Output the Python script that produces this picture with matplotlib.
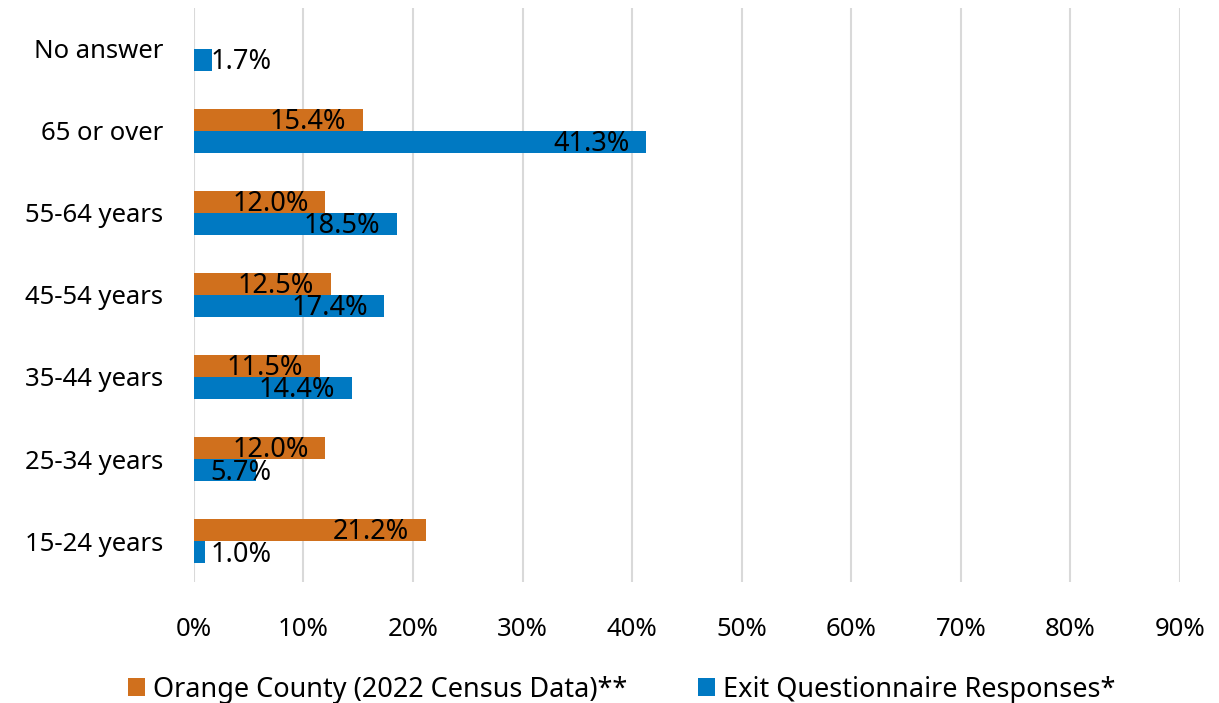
import matplotlib
matplotlib.use('Agg')
import matplotlib.pyplot as plt
import numpy as np

categories = ['15-24 years', '25-34 years', '35-44 years', '45-54 years',
              '55-64 years', '65 or over', 'No answer']
orange_county = [21.2, 12.0, 11.5, 12.5, 12.0, 15.4, np.nan]
exit_responses = [1.0, 5.7, 14.4, 17.4, 18.5, 41.3, 1.7]
xticks = [0, 10, 20, 30, 40, 50, 60, 70, 80, 90]

ORANGE = '#D0701D'
BLUE = '#0079C2'

plt.rcParams['font.family'] = ['Noto Sans', 'DejaVu Sans']

fig = plt.figure(figsize=(12.19, 7.03), dpi=100)
ax = fig.add_axes([0.159, 0.172, 0.809, 0.817])

y = np.arange(len(categories))
h = 0.27
ax.barh(y + h / 2, orange_county, height=h, color=ORANGE,
        label='Orange County (2022 Census Data)**', zorder=3)
ax.barh(y - h / 2, exit_responses, height=h, color=BLUE,
        label='Exit Questionnaire Responses*', zorder=3)

# value labels, centred a little inside the bar end, clamped for short bars
for vals, off in ((orange_county, h / 2), (exit_responses, -h / 2)):
    for yi, v in zip(y, vals):
        if np.isnan(v):
            continue
        ax.text(max(v - 5.0, 4.3), yi + off - 0.03, f'{v:.1f}%',
                ha='center', va='center', fontsize=19.5, color='black', zorder=4)

ax.set_xlim(0, 90)
ax.set_ylim(-0.5, 6.5)
ax.set_xticks(xticks)
ax.set_xticklabels([f'{t}%' for t in xticks])
ax.set_yticks(y)
ax.set_yticklabels(categories)
ax.tick_params(axis='both', length=0, labelsize=18.5)
ax.tick_params(axis='y', pad=22)
ax.tick_params(axis='x', pad=25)

ax.grid(axis='x', color='#D9D9D9', linewidth=1.5, zorder=0)
for s in ax.spines.values():
    s.set_visible(False)

fig.legend(loc='lower center', bbox_to_anchor=(0.51, -0.024), ncol=2,
           frameon=False, fontsize=19.5, handlelength=0.62, handleheight=0.62,
           handletextpad=0.3, columnspacing=2.6, borderaxespad=0.2)

fig.savefig('out.png', dpi=100, facecolor='white')
